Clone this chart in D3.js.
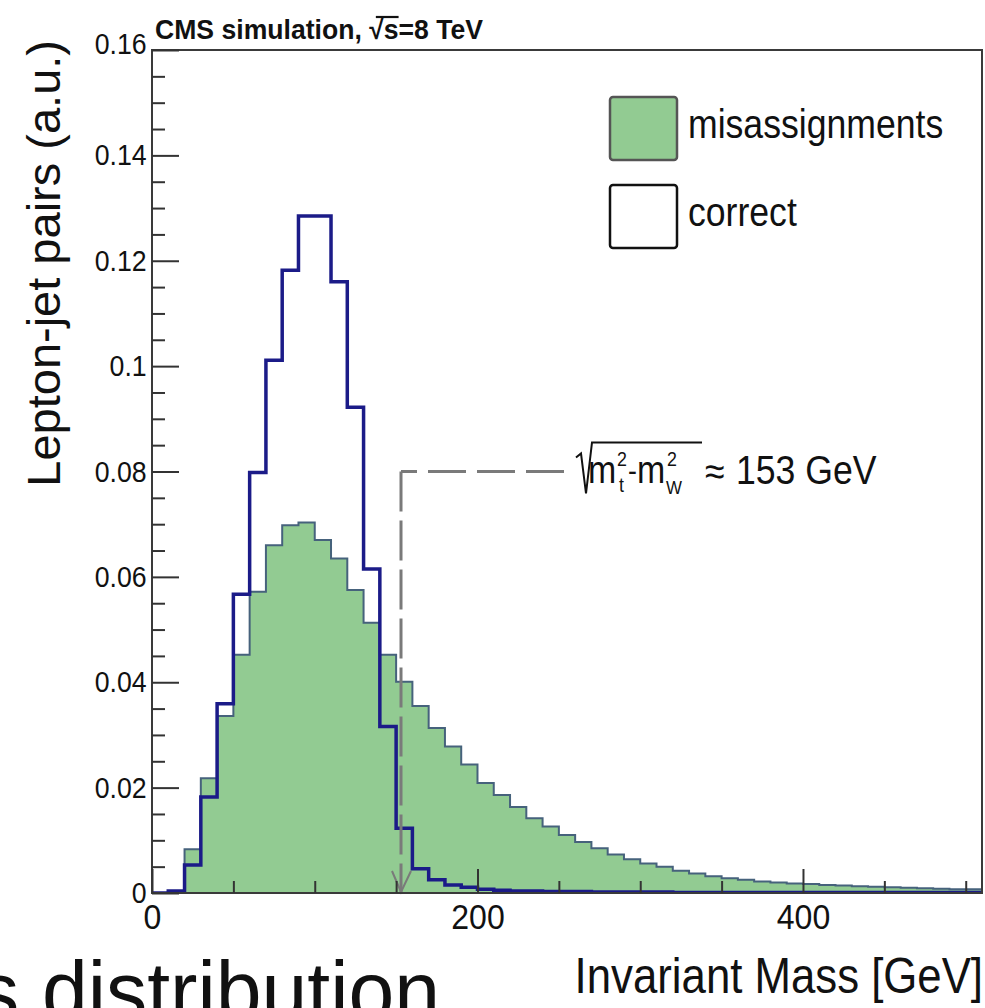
<!DOCTYPE html>
<html>
<head>
<meta charset="utf-8">
<script src="https://cdn.jsdelivr.net/npm/d3@7"></script>
<style>
  html, body { margin: 0; padding: 0; background: #ffffff; }
  svg { display: block; }
  text { font-family: "Liberation Sans", Arial, Helvetica, sans-serif; fill: #111; }
</style>
</head>
<body>
<svg id="chart" width="985" height="1008"></svg>
<script>
// ---- histogram data: 10 GeV bins starting at 0 GeV ----
const binWidth = 10;
const binStarts = d3.range(0, 510, 10);

// lepton-jet pairs with the correct assignment (normalised)
const correct = [
  0.0000, 0.0004, 0.0053, 0.0182, 0.0359, 0.0567, 0.0798, 0.1011, 0.1182, 0.1285,
  0.1285, 0.1160, 0.0922, 0.0615, 0.0316, 0.0123, 0.0046, 0.0025, 0.0015, 0.0011,
  0.0007, 0.0005, 0.0004, 0.0004, 0.0003, 0.0003, 0.0003, 0.0002, 0.0002, 0.0002,
  0.0002, 0.0002, 0.0001, 0.0001, 0.0001, 0.0001, 0.0001, 0.0001, 0.0001, 0.0001,
  0.0001, 0.0001, 0.0001, 0.0001, 0.0001, 0.0001, 0.0001, 0.0001, 0.0001, 0.0001,
  0.0001
];

// lepton-jet pairs from misassignments (normalised)
const misassigned = [
  0.0000, 0.0000, 0.0083, 0.0218, 0.0336, 0.0452, 0.0572, 0.0660, 0.0698, 0.0703,
  0.0670, 0.0635, 0.0575, 0.0513, 0.0452, 0.0401, 0.0355, 0.0313, 0.0278, 0.0244,
  0.0209, 0.0186, 0.0163, 0.0142, 0.0126, 0.0110, 0.0097, 0.0085, 0.0073, 0.0064,
  0.0056, 0.0050, 0.0042, 0.0037, 0.0032, 0.0028, 0.0025, 0.0022, 0.0020, 0.0018,
  0.0017, 0.0015, 0.0014, 0.0013, 0.0012, 0.0011, 0.0010, 0.0009, 0.0008, 0.0007,
  0.0007
];

const yTicks = [0, 0.02, 0.04, 0.06, 0.08, 0.1, 0.12, 0.14, 0.16];
const yTickLabels = ["0", "0.02", "0.04", "0.06", "0.08", "0.1", "0.12", "0.14", "0.16"];
const xTicks = [0, 200, 400];
const xTickLabels = ["0", "200", "400"];
const legendNames = ["misassignments", "correct"];
const thresholdMass = 153;   // sqrt(mt^2 - mW^2)
const thresholdLevel = 0.08;

// ---- layout ----
const svg = d3.select("#chart");
const frame = { left: 152, right: 982, top: 50, bottom: 893 };
const x = d3.scaleLinear().domain([0, 510]).range([frame.left, frame.right]);
const y = d3.scaleLinear().domain([0, 0.16]).range([frame.bottom, frame.top]);

const SX = 0.89; // horizontal squeeze of the lettering
const green = "#92cb92";
const greenEdge = "#46627c";
const navy = "#1b1b88";

svg.append("defs").append("clipPath").attr("id", "plotClip")
  .append("rect")
  .attr("x", frame.left).attr("y", frame.top - 2)
  .attr("width", frame.right - frame.left).attr("height", frame.bottom - frame.top + 2);

// step series with a closing point at the last bin edge
function steps(values) {
  const pts = binStarts.map((s, i) => ({ m: s, v: values[i] }));
  pts.push({ m: binStarts[binStarts.length - 1] + binWidth, v: values[values.length - 1] });
  return pts;
}

const plot = svg.append("g").attr("clip-path", "url(#plotClip)");

// misassignments: filled histogram
plot.append("path")
  .datum(steps(misassigned))
  .attr("fill", green)
  .attr("stroke", "none")
  .attr("d", d3.area().curve(d3.curveStepAfter)
    .x(d => x(d.m)).y0(y(0)).y1(d => y(d.v)));

plot.append("path")
  .datum(steps(misassigned))
  .attr("fill", "none")
  .attr("stroke", greenEdge)
  .attr("stroke-width", 2)
  .attr("d", d3.line().curve(d3.curveStepAfter)
    .x(d => x(d.m)).y(d => y(d.v)));

// correct assignments: outline histogram
plot.append("path")
  .datum(steps(correct))
  .attr("fill", "none")
  .attr("stroke", navy)
  .attr("stroke-width", 3.5)
  .attr("stroke-linejoin", "miter")
  .attr("d", d3.line().curve(d3.curveStepAfter)
    .x(d => x(d.m)).y(d => y(d.v)));

// ---- kinematic endpoint marker ----
const mx = x(thresholdMass), my = y(thresholdLevel);
const dashEnd = mx + 163;
const dashColor = "#7a7a7a";

svg.append("line")
  .attr("x1", dashEnd).attr("y1", my).attr("x2", mx).attr("y2", my)
  .attr("stroke", dashColor).attr("stroke-width", 3)
  .attr("stroke-dasharray", "38,11");
svg.append("line")
  .attr("x1", mx).attr("y1", my).attr("x2", mx).attr("y2", y(0))
  .attr("stroke", dashColor).attr("stroke-width", 3)
  .attr("stroke-dasharray", "40,9");
svg.append("path")
  .attr("d", `M${mx - 9},${y(0) - 22} L${mx},${y(0) - 1} L${mx + 10},${y(0) - 22}`)
  .attr("fill", "none").attr("stroke", dashColor).attr("stroke-width", 2);

// ---- frame and axes ----
svg.append("rect")
  .attr("x", frame.left).attr("y", frame.top)
  .attr("width", frame.right - frame.left).attr("height", frame.bottom - frame.top)
  .attr("fill", "none").attr("stroke", "#3a3a3a").attr("stroke-width", 2);

const axisColor = "#333";

// y axis: minor ticks every 0.005, major every 0.02
const yMinor = d3.range(0, 0.16001, 0.005).filter(v => Math.abs(Math.round(v / 0.02) * 0.02 - v) > 1e-6);
svg.append("g").attr("transform", `translate(${frame.left},0)`)
  .call(d3.axisLeft(y).tickValues(yMinor).tickSizeInner(-13).tickSizeOuter(0).tickFormat(""))
  .call(g => g.select(".domain").remove())
  .call(g => g.selectAll("line").attr("stroke", axisColor).attr("stroke-width", 2));

const yAxis = svg.append("g").attr("transform", `translate(${frame.left},0)`)
  .call(d3.axisLeft(y).tickValues(yTicks).tickSizeInner(-27).tickSizeOuter(0)
    .tickPadding(6).tickFormat((d, i) => yTickLabels[i]))
  .call(g => g.select(".domain").remove())
  .call(g => g.selectAll("line").attr("stroke", axisColor).attr("stroke-width", 2));
yAxis.selectAll("text")
  .attr("font-size", 30)
  .attr("fill", "#111")
  .attr("font-family", "Liberation Sans, Arial, sans-serif")
  .attr("transform", `scale(${SX},1)`);
yAxis.selectAll(".tick").filter(d => d === 0.16).select("text").attr("dy", "0.1em");

// x axis: minor ticks every 50, major every 200
const xMinor = d3.range(50, 501, 50).filter(v => v % 200 !== 0);
svg.append("g").attr("transform", `translate(0,${frame.bottom})`)
  .call(d3.axisBottom(x).tickValues(xMinor).tickSizeInner(-12).tickSizeOuter(0).tickFormat(""))
  .call(g => g.select(".domain").remove())
  .call(g => g.selectAll("line").attr("stroke", axisColor).attr("stroke-width", 2));

const xAxis = svg.append("g").attr("transform", `translate(0,${frame.bottom})`)
  .call(d3.axisBottom(x).tickValues(xTicks).tickSizeInner(-24).tickSizeOuter(0)
    .tickPadding(10).tickFormat((d, i) => xTickLabels[i]))
  .call(g => g.select(".domain").remove())
  .call(g => g.selectAll("line").attr("stroke", axisColor).attr("stroke-width", 2));
xAxis.selectAll("text")
  .attr("font-size", 36)
  .attr("fill", "#111")
  .attr("font-family", "Liberation Sans, Arial, sans-serif")
  .attr("transform", `scale(${SX},1)`);

// ---- titles ----
function squeezed(sel, px, py, str, size, opts = {}) {
  return sel.append("text")
    .attr("transform", `translate(${px},${py}) scale(${opts.sx || SX},1)`)
    .attr("font-size", size)
    .attr("font-weight", opts.weight || "normal")
    .attr("text-anchor", opts.anchor || "start")
    .text(str);
}

// header with the root-s overline
const headerTf = "translate(155,39) scale(0.95,1)";
const header = svg.append("text")
  .attr("transform", headerTf)
  .attr("font-size", 28)
  .attr("font-weight", "bold");
header.append("tspan").text("CMS simulation, √");
header.append("tspan").text("s");
header.append("tspan").text("=8 TeV");
{
  const node = header.node();
  const i0 = "CMS simulation, √".length;
  const a = node.getStartPositionOfChar(i0 - 1);
  const b = node.getEndPositionOfChar(i0);
  svg.append("line")
    .attr("transform", headerTf)
    .attr("x1", a.x + 7).attr("x2", b.x)
    .attr("y1", -22).attr("y2", -22)
    .attr("stroke", "#111").attr("stroke-width", 2.2);
}

// y-axis title
svg.append("text")
  .attr("transform", `translate(60,40) rotate(-90)`)
  .attr("font-size", 47)
  .attr("text-anchor", "end")
  .text("Lepton-jet pairs (a.u.)");

// x-axis title
squeezed(svg, 983, 993, "Invariant Mass [GeV]", 50, { anchor: "end", sx: 0.875 });

// slide caption running off the page
squeezed(svg, -22, 1020, "s distribution", 84, { sx: 0.98 });

// ---- legend ----
const legend = svg.append("g");
const legendRows = [
  { name: legendNames[0], fill: green, stroke: "#555", y: 97 },
  { name: legendNames[1], fill: "#ffffff", stroke: "#111", y: 185 }
];
legendRows.forEach(r => {
  legend.append("rect")
    .attr("x", 610).attr("y", r.y).attr("width", 67).attr("height", 63)
    .attr("rx", 3).attr("ry", 3)
    .attr("fill", r.fill).attr("stroke", r.stroke).attr("stroke-width", 2.5);
  squeezed(legend, 688, r.y + 41, r.name, 40);
});

// ---- endpoint label: sqrt(m_t^2 - m_W^2) ~ 153 GeV ----
const lab = svg.append("g").attr("transform", `translate(${dashEnd},${my})`);
lab.append("path")
  .attr("d", "M12,-14 L17,-18 L22,22 L28,-29 L138,-29")
  .attr("fill", "none").attr("stroke", "#111").attr("stroke-width", 2);
squeezed(lab, 24, 11, "m", 38);
squeezed(lab, 53, -6, "2", 20);
squeezed(lab, 55, 20, "t", 20);
squeezed(lab, 64, 9, "-", 30);
squeezed(lab, 73, 11, "m", 38);
squeezed(lab, 103, -6, "2", 20);
squeezed(lab, 102, 22, "W", 19);
squeezed(lab, 141, 13, "≈", 40);
squeezed(lab, 172, 12, "153 GeV", 40);
</script>
</body>
</html>
